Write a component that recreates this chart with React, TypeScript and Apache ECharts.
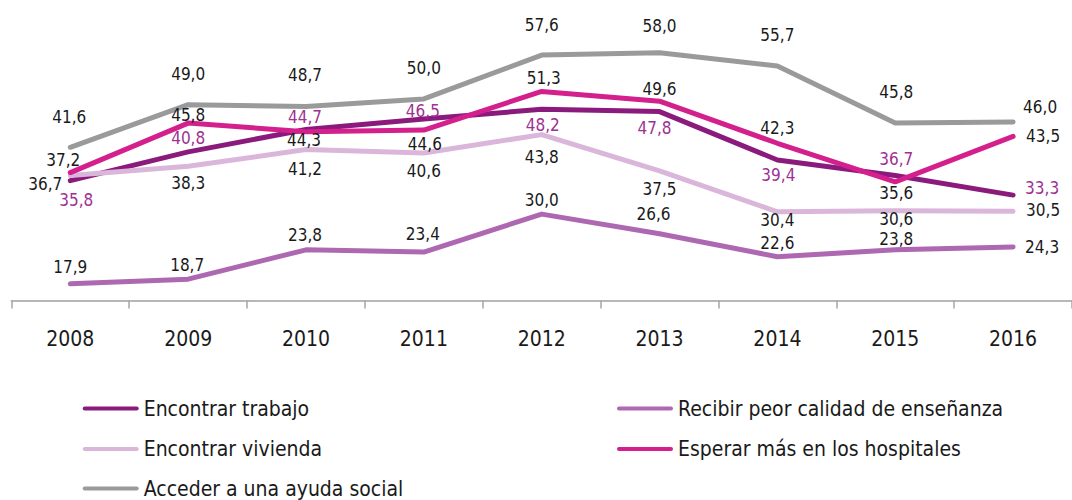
import React, { useEffect, useRef } from "react";
import * as echarts from "echarts";

const years = ["2008", "2009", "2010", "2011", "2012", "2013", "2014", "2015", "2016"];

const seriesNames = [
  "Encontrar trabajo",
  "Recibir peor calidad de enseñanza",
  "Encontrar vivienda",
  "Esperar más en los hospitales",
  "Acceder a una ayuda social",
];

const trabajo = [35.8, 40.8, 44.7, 46.5, 48.2, 47.8, 39.4, 36.7, 33.3];
const ensenanza = [17.9, 18.7, 23.8, 23.4, 30.0, 26.6, 22.6, 23.8, 24.3];
const vivienda = [36.7, 38.3, 41.2, 40.6, 43.8, 37.5, 30.4, 30.6, 30.5];
const hospitales = [37.2, 45.8, 44.3, 44.6, 51.3, 49.6, 42.3, 35.6, 43.5];
const ayuda = [41.6, 49.0, 48.7, 50.0, 57.6, 58.0, 55.7, 45.8, 46.0];

const seriesValues = [trabajo, ensenanza, vivienda, hospitales, ayuda];

const lineColors = ["#8b1a7d", "#ae68b1", "#dab7da", "#d3208d", "#9a9a9a"];
const labelColors = ["#9e3192", "#1a1a1a", "#1a1a1a", "#1a1a1a", "#1a1a1a"];

// label placement offsets (pixels from each point), one list per series
const labelOffsets: number[][][] = [
  [[6, 19], [0, -14], [-1, -12], [-1, -8], [1, 16], [-5, 16], [1, 15], [1, -17], [29, -7]],
  [[0, -17], [-1, -14], [-1, -15], [-1, -18], [0, -14], [-6, -20], [0, -14], [1, -11], [29, 0]],
  [[-25, 8], [0, 17], [-1, 19], [0, 18], [0, 22], [0, 18], [0, 8], [1, 8], [30, -1]],
  [[-7, -13], [0, -8], [-2, 8], [1, 14], [2, -13], [0, -12], [0, -15], [1, 11], [30, 0]],
  [[-1, -30], [0, -31], [-1, -31], [0, -31], [0, -30], [0, -27], [0, -31], [1, -31], [27, -15]],
];

// legend layout: [left, rowCenterY] per series
const legendSpots: number[][] = [
  [82.7, 408.5],
  [617, 408.5],
  [82.7, 449],
  [617, 449],
  [82.7, 488.5],
];

const FONT = "'Liberation Sans Narrow', 'Arial Narrow', 'DejaVu Sans Condensed', sans-serif";
const ICON = "path://M2,0 L54,0 A2,2 0 0 1 54,4 L2,4 A2,2 0 0 1 2,0 Z";
const LEGEND_FS = 21;

export default function App() {
  const ref = useRef<HTMLDivElement>(null);

  useEffect(() => {
    if (!ref.current) return;
    const chart = echarts.init(ref.current, null, { renderer: "svg" });

    const series = seriesNames.map((name, s) => ({
      name,
      type: "line",
      symbol: "circle",
      symbolSize: 1,
      showSymbol: true,
      showAllSymbol: true,
      color: lineColors[s],
      lineStyle: { width: 5, color: lineColors[s], cap: "round", join: "round" },
      itemStyle: { color: lineColors[s] },
      label: {
        show: true,
        position: "inside",
        fontFamily: FONT,
        fontSize: 17,
        lineHeight: 17,
        color: labelColors[s],
        formatter: (p: any) => Number(p.value).toFixed(1).replace(".", ","),
      },
      emphasis: { disabled: true },
      data: seriesValues[s].map((v, i) => ({
        value: v,
        label: { offset: labelOffsets[s][i] },
      })),
    }));

    const legends = seriesNames.map((name, s) => ({
      orient: "horizontal",
      left: legendSpots[s][0],
      top: legendSpots[s][1] - LEGEND_FS / 2,
      itemWidth: 56,
      itemHeight: 4,
      padding: 0,
      icon: ICON,
      selectedMode: false,
      textStyle: { fontFamily: FONT, fontSize: LEGEND_FS, color: "#1a1a1a", lineHeight: LEGEND_FS },
      data: [name],
    }));

    chart.setOption({
      animation: false,
      grid: { left: 11.4, top: 12.5, width: 1071.9, height: 288 },
      xAxis: {
        type: "category",
        data: years,
        boundaryGap: true,
        axisLine: { show: true, lineStyle: { color: "#a0a0a0", width: 1.5 } },
        axisTick: { show: true, length: 8, lineStyle: { color: "#a6a6a6", width: 1.5 } },
        axisLabel: { fontFamily: FONT, fontSize: 21, color: "#1a1a1a", margin: 28 },
      },
      yAxis: {
        type: "value",
        min: 15,
        max: 65,
        show: false,
        splitLine: { show: false },
      },
      legend: legends,
      series,
    });

    return () => chart.dispose();
  }, []);

  return (
    <div
      ref={ref}
      style={{ position: "absolute", left: 0, top: 0, width: 1072, height: 500, background: "#fff" }}
    />
  );
}
